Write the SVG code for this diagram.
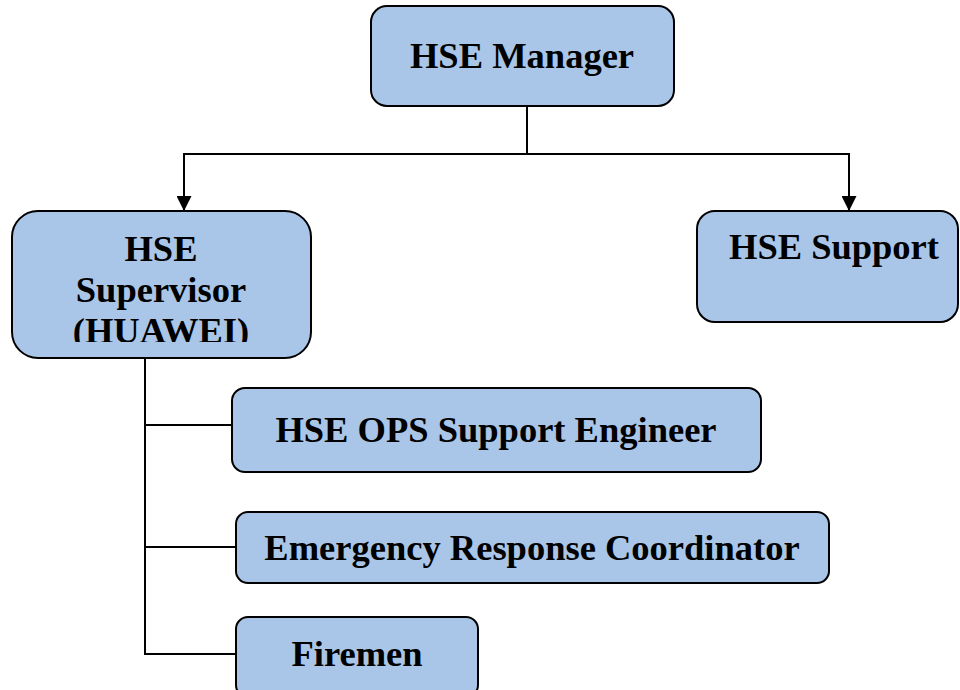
<svg xmlns="http://www.w3.org/2000/svg" width="960" height="690" viewBox="0 0 960 690">
  <style>
    .box { fill: #A9C6E8; stroke: #000; stroke-width: 2; }
    .lbl { font-family: "Liberation Serif", "DejaVu Serif", serif; font-weight: bold; font-size: 36.5px; fill: #000; text-anchor: middle; }
    .wire { fill: none; stroke: #000; stroke-width: 2; }
  </style>
  <defs>
    <marker id="arrow" viewBox="0 0 10 10" refX="10" refY="5" markerWidth="16" markerHeight="15" markerUnits="userSpaceOnUse" orient="auto">
      <path d="M0,0 L10,5 L0,10 Z" fill="#000"/>
    </marker>
    <clipPath id="supClip">
      <rect x="12" y="211" width="300" height="131"/>
    </clipPath>
  </defs>
  <rect width="960" height="690" fill="#fff"/>

  <!-- connectors -->
  <g id="connectors">
    <path class="wire" d="M527,106 V154"/>
    <path class="wire" d="M527,154 H184 V211" marker-end="url(#arrow)"/>
    <path class="wire" d="M527,154 H849 V211" marker-end="url(#arrow)"/>
    <path class="wire" d="M145,358 V654 H236"/>
    <path class="wire" d="M145,425 H232"/>
    <path class="wire" d="M145,547 H236"/>
  </g>

  <g id="hse-manager">
    <rect class="box" x="371" y="6" width="303" height="100" rx="16"/>
    <text class="lbl" x="522" y="68">HSE Manager</text>
  </g>

  <g id="hse-supervisor">
    <rect class="box" x="12" y="211" width="299" height="147" rx="26"/>
    <g clip-path="url(#supClip)">
      <text class="lbl" x="161" y="261">HSE</text>
      <text class="lbl" x="161" y="302">Supervisor</text>
      <text class="lbl" x="161" y="343">(HUAWEI)</text>
    </g>
  </g>

  <g id="hse-support">
    <rect class="box" x="697" y="211" width="261" height="111" rx="18"/>
    <text class="lbl" x="834" y="259">HSE Support</text>
  </g>

  <g id="ops-engineer">
    <rect class="box" x="232" y="388" width="529" height="84" rx="13"/>
    <text class="lbl" x="496" y="442">HSE OPS Support Engineer</text>
  </g>

  <g id="emergency-coordinator">
    <rect class="box" x="236" y="512" width="593" height="71" rx="12"/>
    <text class="lbl" x="532" y="560">Emergency Response Coordinator</text>
  </g>

  <g id="firemen">
    <rect class="box" x="236" y="617" width="242" height="80" rx="12"/>
    <text class="lbl" x="357" y="666">Firemen</text>
  </g>
</svg>
